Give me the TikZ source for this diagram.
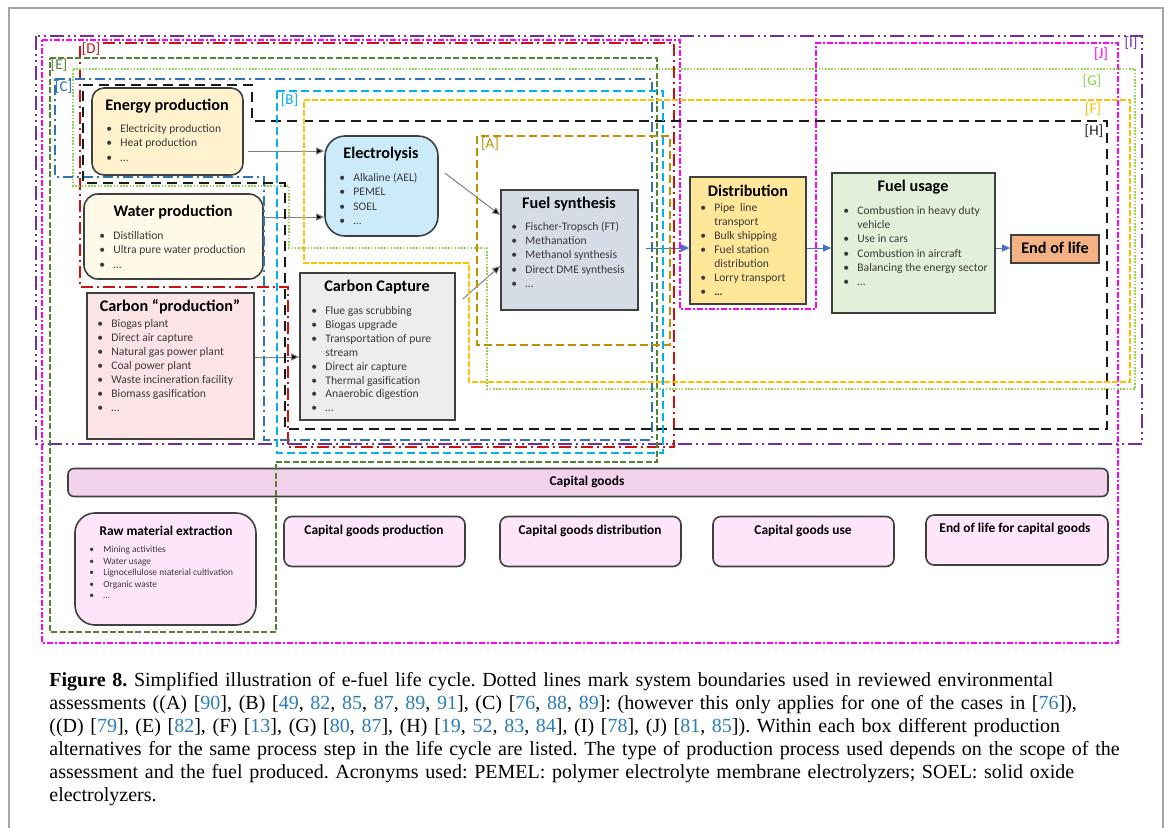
\documentclass[tikz,border=0pt]{standalone}
\usepackage{fontspec}
\setmainfont{Liberation Serif}
\newfontfamily\calfont{Carlito}
\usetikzlibrary{arrows.meta}
\definecolor{boxline}{HTML}{404040}
\definecolor{txtgray}{HTML}{3A3A3A}
\definecolor{cEnergy}{HTML}{FFF2CC}
\definecolor{cWater}{HTML}{FFF9E8}
\definecolor{cCprod}{HTML}{FCE4E6}
\definecolor{cElec}{HTML}{CCEBFA}
\definecolor{cCcap}{HTML}{EDEDED}
\definecolor{cFuel}{HTML}{D6DCE5}
\definecolor{cDist}{HTML}{FFE699}
\definecolor{cFU}{HTML}{E2F0D9}
\definecolor{cEol}{HTML}{F4B183}
\definecolor{cBar}{HTML}{F2D1EA}
\definecolor{cCG}{HTML}{FFE5FA}
\definecolor{arrgray}{HTML}{7F7F7F}
\definecolor{arrblue}{HTML}{4472C4}
\definecolor{colI}{HTML}{7030A0}
\definecolor{colJ}{HTML}{FF00FF}
\definecolor{colD}{HTML}{CC1111}
\definecolor{colE}{HTML}{548235}
\definecolor{colG}{HTML}{92D050}
\definecolor{colC}{HTML}{2E75B6}
\definecolor{colH}{HTML}{1A1A1A}
\definecolor{colB}{HTML}{00B0F0}
\definecolor{colF}{HTML}{FFC000}
\definecolor{colA}{HTML}{BF9000}
\definecolor{linkblue}{HTML}{2A7DB8}
\definecolor{framegray}{HTML}{A6A6A6}
\newcommand{\blist}[1]{\begin{tabular}[t]{@{}p{7pt}@{}l@{}}#1\end{tabular}}
\newcommand{\cb}[1]{\textcolor{linkblue}{#1}}
\frenchspacing
\begin{document}
\begin{tikzpicture}[x=0.5pt,y=-0.5pt,
  box/.style={draw=boxline, line width=0.8pt, inner sep=0pt},
  ttl/.style={inner sep=0pt, font=\calfont\bfseries\fontsize{8.1}{9.5}\selectfont},
  sttl/.style={inner sep=0pt, font=\calfont\bfseries\fontsize{6.7}{8}\selectfont},
  bl/.style={inner sep=0pt, anchor=base west, text=txtgray, font=\calfont\fontsize{5.8}{7.2}\selectfont},
  lab/.style={inner sep=0pt, font=\calfont\fontsize{7.5}{8.5}\selectfont},
  arr/.style={draw=arrgray, line width=0.5pt, -{Triangle[length=4pt,width=3.5pt,fill=black]}},
  barr/.style={draw=arrblue, line width=0.5pt, -{Triangle[length=4pt,width=3.5pt,fill=arrblue]}},
  bI/.style={draw=colI, line width=1pt, dash pattern=on 7pt off 2pt on 1pt off 2pt on 1pt off 2pt},
  bJ/.style={draw=colJ, line width=0.9pt, dash pattern=on 3pt off 1pt on 1pt off 1pt},
  bD/.style={draw=colD, line width=1pt, dash pattern=on 6pt off 2pt on 1pt off 2pt},
  bE/.style={draw=colE, line width=0.8pt, dash pattern=on 3pt off 1.2pt},
  bG/.style={draw=colG, line width=0.8pt, dash pattern=on 0.8pt off 0.8pt},
  bC/.style={draw=colC, line width=0.9pt, dash pattern=on 5pt off 2pt on 1pt off 2pt},
  bH/.style={draw=colH, line width=1pt, dash pattern=on 5pt off 3pt},
  bB/.style={draw=colB, line width=0.9pt, dash pattern=on 4pt off 2pt},
  bF/.style={draw=colF, line width=0.9pt, dash pattern=on 3pt off 1pt},
  bA/.style={draw=colA, line width=0.9pt, dash pattern=on 4pt off 2pt}
]
\useasboundingbox (0,0) rectangle (1168,827);
\draw[framegray, line width=0.8pt] (9,840) -- (9,8) -- (1163,8) -- (1163,840);

% ---- boxes
\node[box, fill=cEnergy, rounded corners=6pt, minimum width=75.5pt, minimum height=43.5pt] (energy) at (167.5,131.5) {};
\node[box, fill=cWater, rounded corners=7pt, minimum width=89.5pt, minimum height=42.5pt] (water) at (173.5,236.5) {};
\node[box, fill=cCprod, minimum width=83.5pt, minimum height=73pt] (cprod) at (170.5,366) {};
\node[box, fill=cElec, rounded corners=10pt, minimum width=56.5pt, minimum height=50pt] (elec) at (381.5,186) {};
\node[box, fill=cCcap, minimum width=77.5pt, minimum height=73.5pt] (ccap) at (377.5,346.5) {};
\node[box, fill=cFuel, minimum width=68.5pt, minimum height=60pt] (fuel) at (569.5,250) {};
\node[box, fill=cDist, minimum width=58pt, minimum height=63.5pt] (dist) at (748,240.5) {};
\node[box, fill=cFU, minimum width=81.5pt, minimum height=70pt] (fu) at (913.5,243) {};
\node[box, fill=cEol, minimum width=44pt, minimum height=14pt] (eol) at (1055,249) {};
\node[box, fill=cBar, rounded corners=3pt, minimum width=520pt, minimum height=14pt] (bar) at (588,482.5) {};
\node[box, fill=cCG, rounded corners=10pt, minimum width=90.5pt, minimum height=56pt] (raw) at (165.5,569) {};
\node[box, fill=cCG, rounded corners=4pt, minimum width=90.5pt, minimum height=25pt] (cgp) at (374.5,541.5) {};
\node[box, fill=cCG, rounded corners=4pt, minimum width=90.5pt, minimum height=25pt] (cgd) at (590.5,541.5) {};
\node[box, fill=cCG, rounded corners=4pt, minimum width=90.5pt, minimum height=25pt] (cgu) at (803.5,541.5) {};
\node[box, fill=cCG, rounded corners=4pt, minimum width=91pt, minimum height=25pt] (eolcg) at (1017,540) {};

% ---- titles
\node[ttl] (energyT) at (167,106) {Energy production};
\node[ttl] (waterT) at (173,212) {Water production};
\node[ttl] (cprodT) at (170,307) {Carbon “production”};
\node[ttl] (elecT) at (381,154) {Electrolysis};
\node[ttl] (ccapT) at (377,287) {Carbon Capture};
\node[ttl] (fuelT) at (569,204) {Fuel synthesis};
\node[ttl] (distT) at (748,191) {Distribution};
\node[ttl] (fuT) at (913,187) {Fuel usage};
\node[ttl] (eolT) at (1055,248) {End of life};
\node[sttl] (barT) at (587,482) {Capital goods};
\node[sttl] (rawT) at (166,531) {Raw material extraction};
\node[sttl] (cgpT) at (374,531) {Capital goods production};
\node[sttl] (cgdT) at (590,531) {Capital goods distribution};
\node[sttl] (cguT) at (803,531) {Capital goods use};
\node[sttl] (eolcgT) at (1015,529) {End of life for capital goods};

% ---- bullet lists
\node[bl] (energyL) at (106,132.5) {\blist{\textbullet & Electricity production\\ \textbullet & Heat production\\ \textbullet & …}};
\node[bl] (waterL) at (99,239.5) {\blist{\textbullet & Distillation\\ \textbullet & Ultra pure water production\\ \textbullet & …}};
\node[bl, font=\calfont\fontsize{5.8}{7}\selectfont] (cprodL) at (97,327.5) {\blist{\textbullet & Biogas plant\\ \textbullet & Direct air capture\\ \textbullet & Natural gas power plant\\ \textbullet & Coal power plant\\ \textbullet & Waste incineration facility\\ \textbullet & Biomass gasification\\ \textbullet & …}};
\node[bl, font=\calfont\fontsize{5.8}{7.15}\selectfont] (elecL) at (339,181.5) {\blist{\textbullet & Alkaline (AEL)\\ \textbullet & PEMEL\\ \textbullet & SOEL\\ \textbullet & …}};
\node[bl, font=\calfont\fontsize{5.8}{6.95}\selectfont] (ccapL) at (311,314.5) {\blist{\textbullet & Flue gas scrubbing\\ \textbullet & Biogas upgrade\\ \textbullet & Transportation of pure\\ & stream\\ \textbullet & Direct air capture\\ \textbullet & Thermal gasification\\ \textbullet & Anaerobic digestion\\ \textbullet & …}};
\node[bl, font=\calfont\fontsize{5.8}{7.1}\selectfont] (fuelL) at (511,230.5) {\blist{\textbullet & Fischer-Tropsch (FT)\\ \textbullet & Methanation\\ \textbullet & Methanol synthesis\\ \textbullet & Direct DME synthesis\\ \textbullet & …}};
\node[bl, font=\calfont\fontsize{5.8}{7}\selectfont] (distL) at (700,211.5) {\blist{\textbullet & Pipe\ \ line\\ & transport\\ \textbullet & Bulk shipping\\ \textbullet & Fuel station\\ & distribution\\ \textbullet & Lorry transport\\ \textbullet & \textbf{…}}};
\node[bl, font=\calfont\fontsize{5.8}{7.1}\selectfont] (fuL) at (843,214.5) {\blist{\textbullet & Combustion in heavy duty\\ & vehicle\\ \textbullet & Use in cars\\ \textbullet & Combustion in aircraft\\ \textbullet & Balancing the energy sector\\ \textbullet & …}};
\node[bl, font=\calfont\fontsize{4.7}{5.75}\selectfont] (rawL) at (89,552.5) {\blist{\textbullet & Mining activities\\ \textbullet & Water usage\\ \textbullet & Lignocellulose material cultivation\\ \textbullet & Organic waste\\ \textbullet & …}};

% ---- connectors
\draw[arr] (energy.east |- 0,151) ++(4,0) -- (elec.west |- 0,151);
\draw[arr] (water.east |- 0,217) -- (elec.west |- 0,217);
\draw[arr] (cprod.east |- 0,357) -- (ccap.west |- 0,357);
\draw[arr] (elec.east |- 0,173) ++(6,0) -- (fuel.west |- 0,215);
\draw[arr] (ccap.east |- 0,299) ++(7,0) -- (fuel.west |- 0,266);
\draw[barr] (fuel.east |- 0,248) ++(7,0) -- (dist.west |- 0,248);
\draw[barr] (dist.east |- 0,248) -- (fu.west |- 0,248);
\draw[barr] (fu.east |- 0,248) -- (eol.west |- 0,248);

% ---- system boundaries
\draw[bI] (36,36) rectangle (1142,444);
\draw[bJ] (42,40) -- (680,40) -- (680,309) -- (816,309) -- (816,43) -- (1118,43) -- (1118,643) -- (42,643) -- cycle;
\draw[bD] (103,43) -- (674,43) -- (674,447) -- (288,447) -- (288,287) -- (80,287) -- (80,46);
\draw[bE] (50,58) -- (657,58) -- (657,462) -- (276,462) -- (276,632) -- (50,632) -- cycle;
\draw[bG] (73,69) -- (1135,69) -- (1135,389) -- (487,389) -- (487,248) -- (289,248) -- (289,186) -- (73,186) -- cycle;
\draw[bC] (55,79) -- (652,79) -- (652,440) -- (264,440) -- (264,177) -- (55,177) -- cycle;
\draw[bH] (83,85) -- (252,85) -- (252,121) -- (1107,121) -- (1107,429) -- (285,429) -- (285,183) -- (83,183) -- cycle;
\draw[bB] (277,91) rectangle (663,453);
\draw[bF] (304,100) -- (1130,100) -- (1130,382) -- (469,382) -- (469,263) -- (304,263) -- cycle;
\draw[bA] (477,136) rectangle (670,345);

% ---- boundary labels
\node[lab, text=colD] (labD) at (91,49) {[D]};
\node[lab, text=colE] (labE) at (59,65) {[E]};
\node[lab, text=colC] (labC) at (63.5,87) {[C]};
\node[lab, text=colB] (labB) at (289.5,100) {[B]};
\node[lab, text=colA] (labA) at (490,144) {[A]};
\node[lab, text=colI] (labI) at (1131,43) {[I]};
\node[lab, text=colJ] (labJ) at (1101,54) {[J]};
\node[lab, text=colG] (labG) at (1092,81) {[G]};
\node[lab, text=colF] (labF) at (1093,109) {[F]};
\node[lab, text=colH] (labH) at (1094,131) {[H]};

% ---- caption
\node[inner sep=0pt, anchor=base west, text width=580pt, align=left,
      font=\fontsize{10}{11.5}\selectfont] (caption) at (49,686) {%
\textbf{Figure 8.} Simplified illustration of e-fuel life cycle. Dotted lines mark system boundaries used in reviewed environmental\\
assessments ((A) [\cb{90}], (B) [\cb{49}, \cb{82}, \cb{85}, \cb{87}, \cb{89}, \cb{91}], (C) [\cb{76}, \cb{88}, \cb{89}]: (however this only applies for one of the cases in [\cb{76}]),\\
((D) [\cb{79}], (E) [\cb{82}], (F) [\cb{13}], (G) [\cb{80}, \cb{87}], (H) [\cb{19}, \cb{52}, \cb{83}, \cb{84}], (I) [\cb{78}], (J) [\cb{81}, \cb{85}]). Within each box different production\\
alternatives for the same process step in the life cycle are listed. The type of production process used depends on the scope of the\\
assessment and the fuel produced. Acronyms used: PEMEL: polymer electrolyte membrane electrolyzers; SOEL: solid oxide\\
electrolyzers.};
\end{tikzpicture}
\end{document}
